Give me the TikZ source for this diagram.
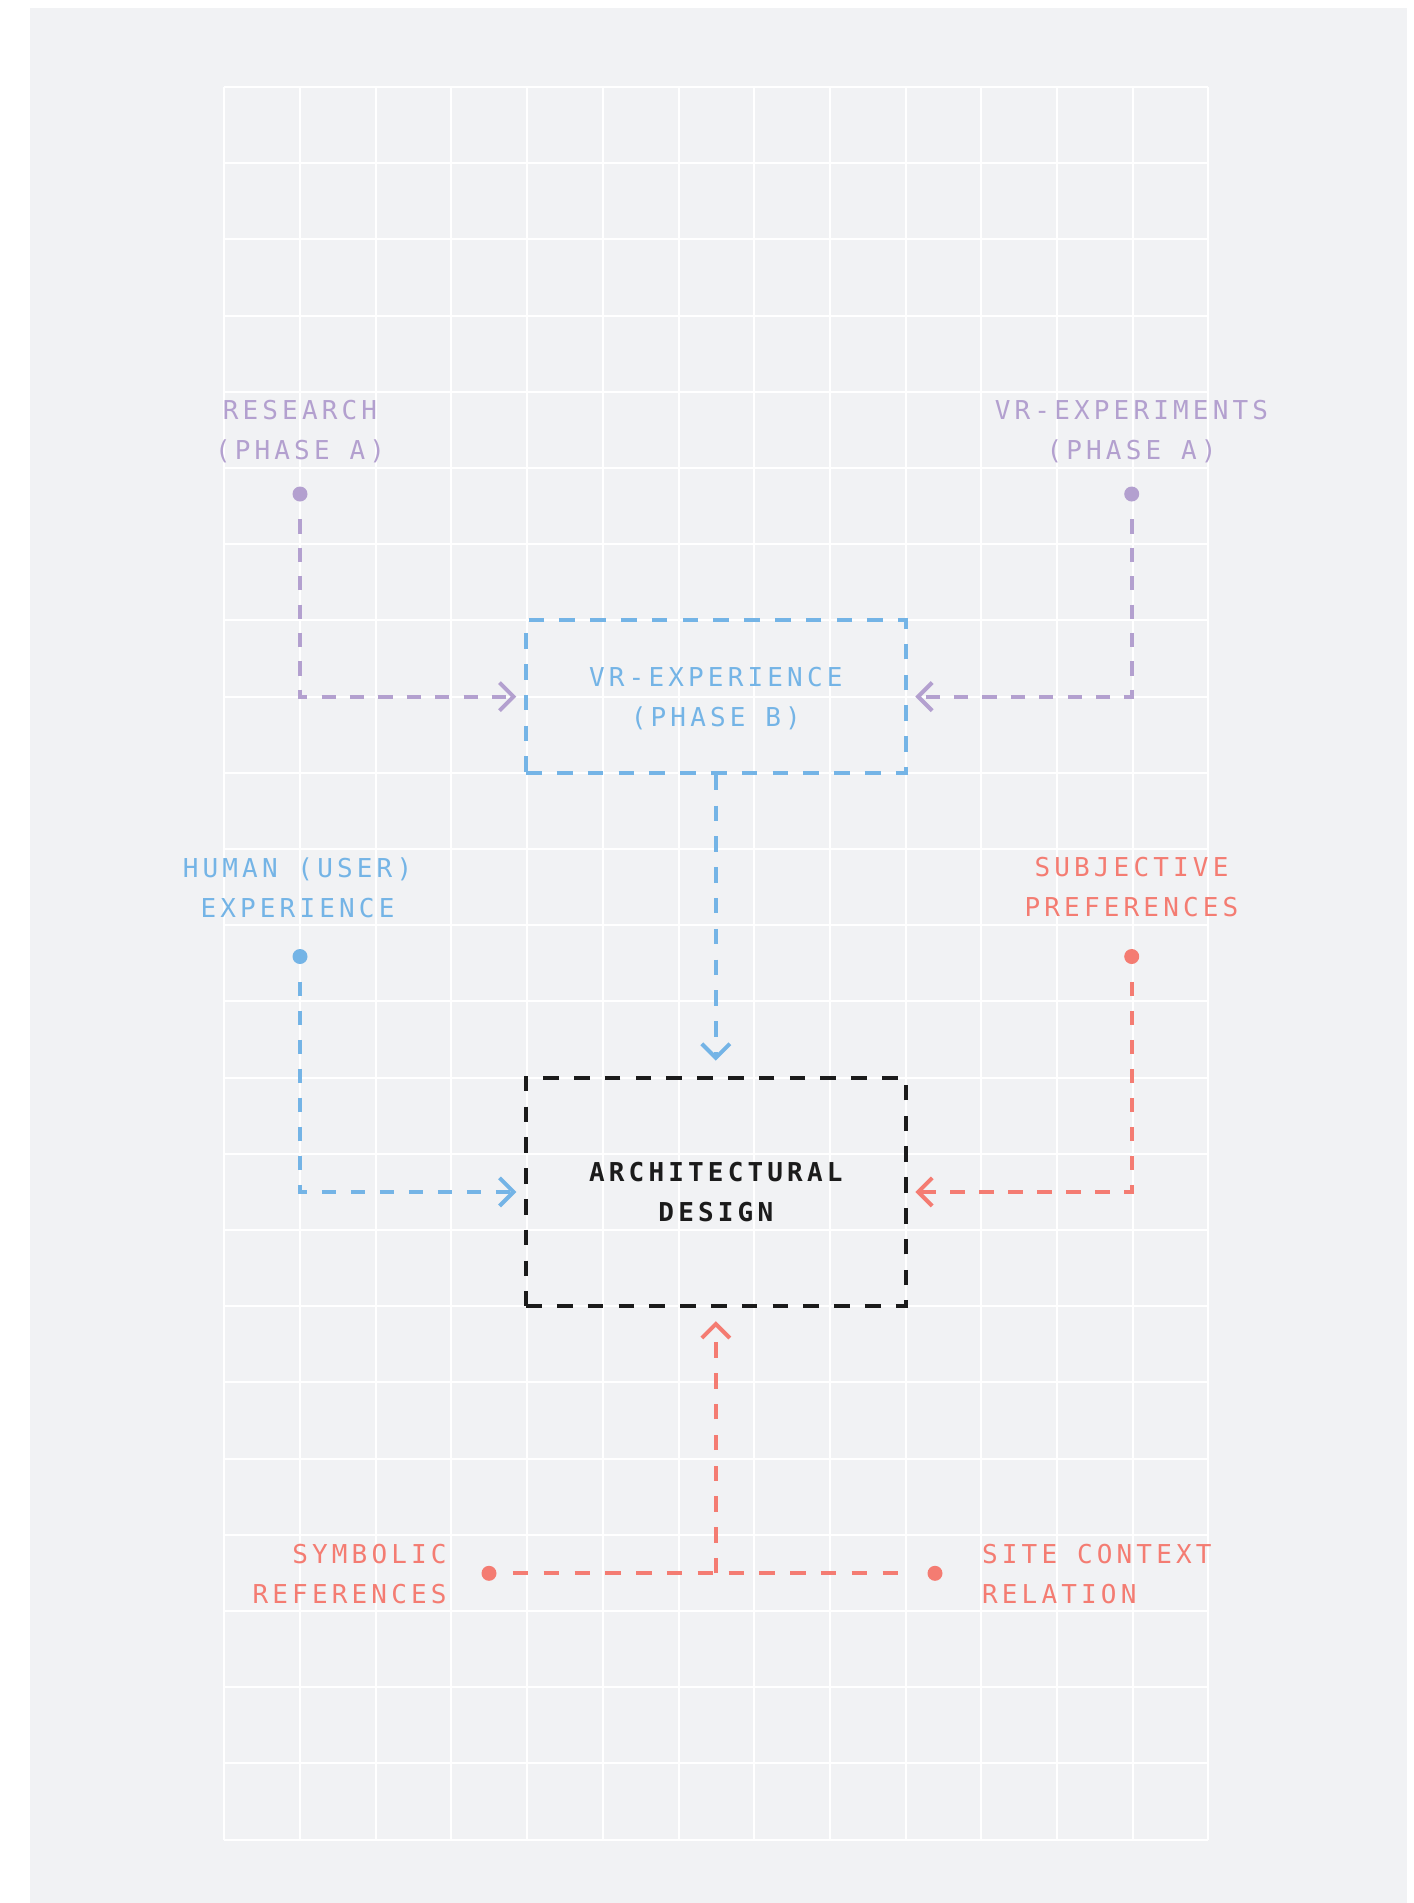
\documentclass[tikz,border=0pt]{standalone}
\usepackage{fontspec}
\newfontfamily\lblfont[LetterSpace=16]{DejaVu Sans Mono}
\newfontfamily\lblfontb[LetterSpace=16]{DejaVu Sans Mono Bold}
\usetikzlibrary{arrows.meta}
\definecolor{bgc}{HTML}{F1F2F4}
\definecolor{cpurple}{HTML}{B3A0CF}
\definecolor{cblue}{HTML}{74B4E6}
\definecolor{cred}{HTML}{F47C72}
\definecolor{cblack}{HTML}{1B1B1B}
\newcommand\lstrut{\rule[-5.26pt]{0pt}{20pt}}
\tikzset{
  gridline/.style={draw=white, line width=1pt},
  lbl/.style={font=\lblfont\fontsize{13pt}{20pt}\selectfont, inner sep=0pt, text=#1},
  dotnode/.style={circle, fill=#1, minimum size=7.5pt, inner sep=0pt},
  boxnode/.style={draw=#1, line width=2pt, dash pattern=on 7.8pt off 7.6pt, minimum width=189.7pt, inner sep=0pt, align=center},
  conn/.style={draw=#1, line width=2pt, dash pattern=on 7.7pt off 7.7pt, -{Straight Barb[length=7pt,width=14pt]}},
  plain/.style={draw=#1, line width=2pt, dash pattern=on 7.7pt off 7.7pt}
}
\begin{document}
\begin{tikzpicture}[x=0.5pt,y=-0.5pt]
\useasboundingbox (0,0) rectangle (1414,1903);
\fill[white] (0,0) rectangle (1414,1903);
\fill[bgc] (30,8) rectangle (1407,1903);
\foreach \i in {0,...,13} \draw[gridline] ({224.3+75.7*\i},87) -- ({224.3+75.7*\i},1840);
\foreach \j in {0,...,23} \draw[gridline] (224.3,{87+76.2*\j}) -- (1208.4,{87+76.2*\j});

% boxes
\node[boxnode=cblue, minimum height=76.2pt, lbl=cblue] (vrbox) at (715.85,696.6)
  {\lstrut VR-EXPERIENCE\\\lstrut (PHASE B)};
\node[boxnode=cblack, minimum height=114.3pt, lbl=cblack, font=\lblfontb\fontsize{13pt}{20pt}\selectfont] (archbox) at (715.85,1191.9)
  {\lstrut ARCHITECTURAL\\\lstrut DESIGN};

% dots
\node[dotnode=cpurple] (dres) at (300,494) {};
\node[dotnode=cpurple] (dvrx) at (1131.7,494) {};
\node[dotnode=cblue] (dhum) at (300,956.5) {};
\node[dotnode=cred] (dsub) at (1131.7,956.5) {};
\node[dotnode=cred] (dsym) at (489,1573.3) {};
\node[dotnode=cred] (dsite) at (935,1573.3) {};
\coordinate (jn) at (archbox.south |- dsym);

% labels
\node[lbl=cpurple, align=center] (lres) at (300,429.8) {\lstrut RESEARCH\\\lstrut (PHASE A)};
\node[lbl=cpurple, align=center] (lvrx) at (1131.5,429.7) {\lstrut VR-EXPERIMENTS\\\lstrut (PHASE A)};
\node[lbl=cblue, align=center] (lhum) at (297.5,887.6) {\lstrut HUMAN (USER)\\\lstrut EXPERIENCE};
\node[lbl=cred, align=center] (lsub) at (1131.5,887.5) {\lstrut SUBJECTIVE\\\lstrut PREFERENCES};
\node[lbl=cred, align=right, anchor=east] (lsym) at (447,1573.6) {\lstrut SYMBOLIC\\\lstrut REFERENCES};
\node[lbl=cred, align=left, anchor=west] (lsite) at (981.7,1573.8) {\lstrut SITE CONTEXT\\\lstrut RELATION};

% connectors
\draw[conn=cpurple, dash pattern=on 7.1pt off 7.1pt, shorten <=8.7pt, shorten >=3.9pt] (dres) |- (vrbox.west);
\draw[conn=cpurple, dash pattern=on 7.1pt off 7.1pt, shorten <=8.7pt, shorten >=3.9pt] (dvrx) |- (vrbox.east);
\draw[conn=cblue, dash pattern=on 7.25pt off 7.25pt, shorten <=8.7pt, shorten >=3.9pt] (dhum) |- (archbox.west);
\draw[conn=cred, dash pattern=on 7.25pt off 7.25pt, shorten <=8.7pt, shorten >=3.9pt] (dsub) |- (archbox.east);
\draw[conn=cblue, shorten >=7.5pt] (vrbox.south) -- (archbox.north);
\draw[plain=cred, shorten <=8pt, shorten >=8pt] (dsym) -- (dsite);
\draw[conn=cred, shorten >=6.5pt] (jn) -- (archbox.south);
\end{tikzpicture}
\end{document}
